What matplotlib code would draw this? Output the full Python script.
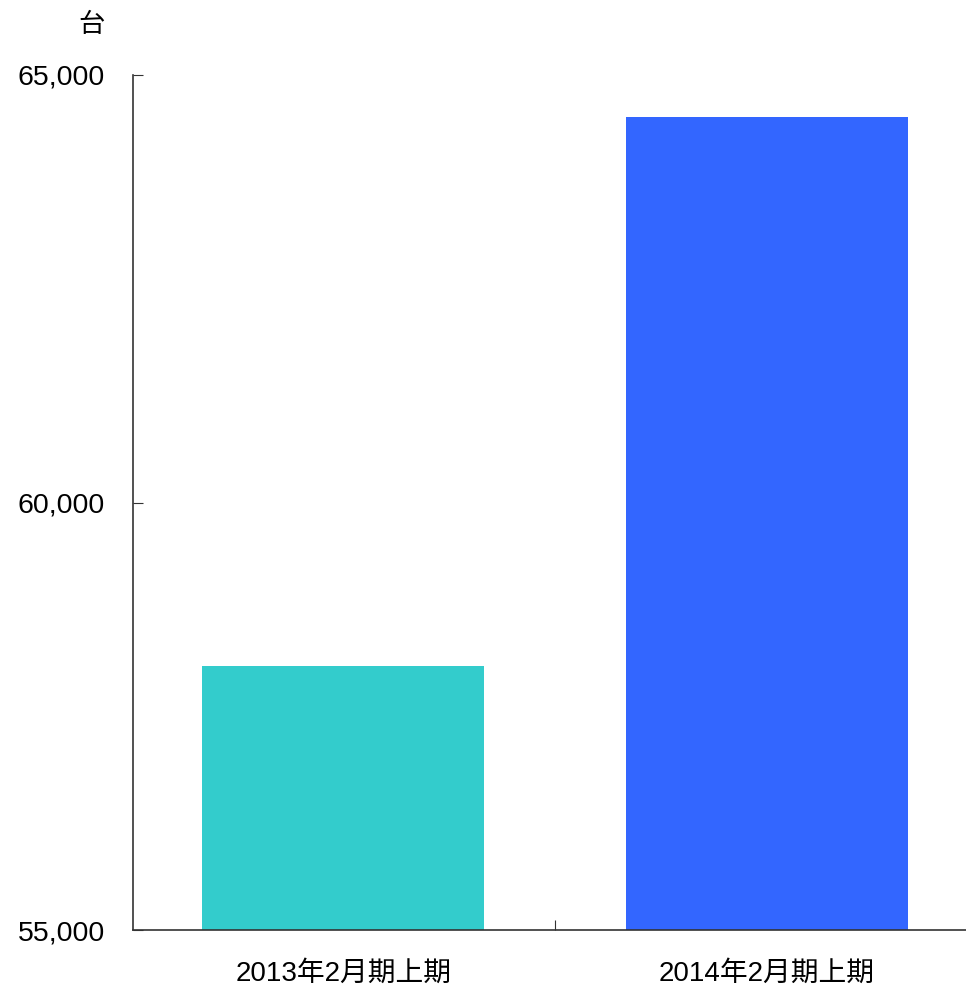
import matplotlib
matplotlib.use('Agg')
import matplotlib.pyplot as plt
from matplotlib.ticker import FuncFormatter

plt.rcParams['font.family'] = ['Liberation Sans', 'Noto Sans CJK JP', 'DejaVu Sans']

# data
categories = ['2013年2月期上期', '2014年2月期上期']
values = [58088, 64509]
colors = ['#33CCCC', '#3366FF']
y_ticks = [55000, 60000, 65000]

fig = plt.figure(figsize=(9.66, 9.86), dpi=100)
ax = fig.add_axes([133 / 966, 56 / 986, 1 - 133 / 966, (930 - 75) / 986])

x = list(range(len(categories)))
ax.bar(x, values, width=0.667, color=colors)

ax.set_ylim(55000, 65000)
ax.set_xlim(-0.496, 1.47)
ax.set_yticks(y_ticks)
ax.yaxis.set_major_formatter(FuncFormatter(lambda v, p: f'{int(v):,}'))
ax.tick_params(axis='y', direction='in', length=7, labelsize=20.5, pad=20, color='#333333')

# category labels without ticks, boundary tick between categories
ax.set_xticks([0.5])
ax.set_xticklabels([''])
ax.set_xticks(x, minor=True)
ax.set_xticklabels(categories, minor=True, fontsize=20)
ax.tick_params(axis='x', which='major', direction='in', length=7, color='#333333')
ax.tick_params(axis='x', which='minor', length=0, pad=22)

for s in ['top', 'right']:
    ax.spines[s].set_visible(False)
for s in ['left', 'bottom']:
    ax.spines[s].set_color('#333333')
    ax.spines[s].set_linewidth(1.2)

fig.text(92 / 966, 1 - 25 / 986, '台', fontsize=19, ha='center', va='center')

fig.savefig('out.png', dpi=100)
